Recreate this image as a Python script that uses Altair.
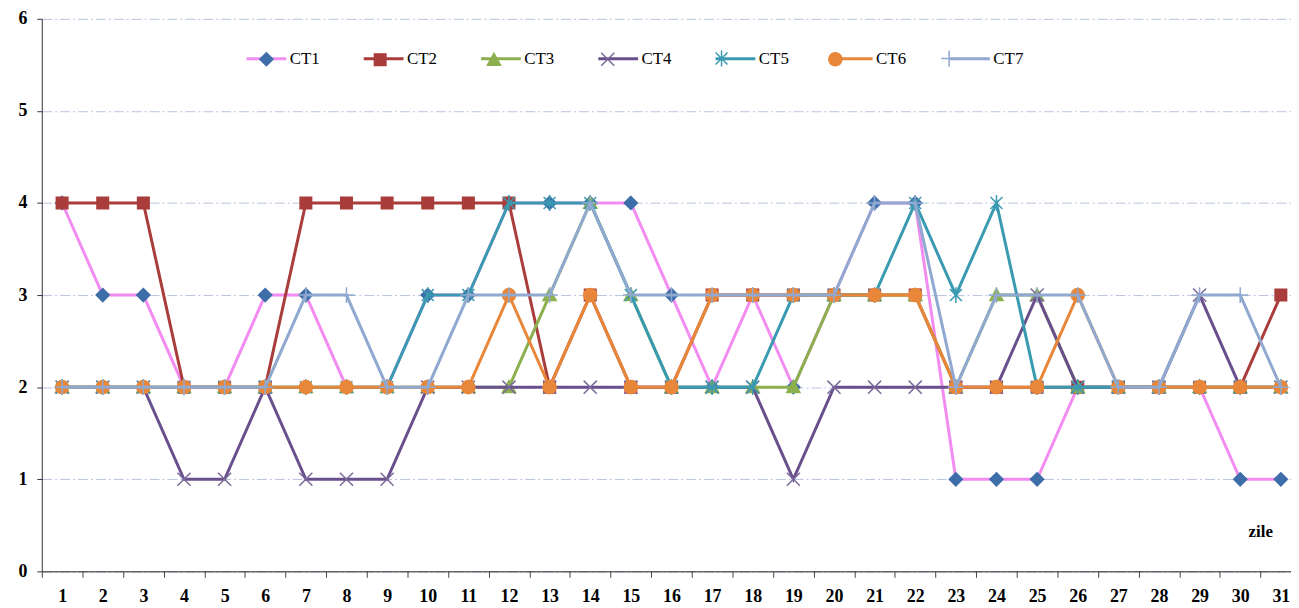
import altair as alt
import pandas as pd

days = list(range(1, 32))
series_names = ["CT1", "CT2", "CT3", "CT4", "CT5", "CT6", "CT7"]
ct1 = [4,3,3,2,2,3,3,2,2,3, 3,4,4,4,4,3,2,3,2,3, 4,4,1,1,1,2,2,2,2,1, 1]
ct2 = [4,4,4,2,2,2,4,4,4,4, 4,4,2,3,2,2,3,3,3,3, 3,3,2,2,2,2,2,2,2,2, 3]
ct3 = [2,2,2,2,2,2,2,2,2,2, 2,2,3,4,3,2,2,2,2,3, 3,3,2,3,3,2,2,2,2,2, 2]
ct4 = [2,2,2,1,1,2,1,1,1,2, 2,2,2,2,2,2,2,2,1,2, 2,2,2,2,3,2,2,2,3,2, 2]
ct5 = [2,2,2,2,2,2,2,2,2,3, 3,4,4,4,3,2,2,2,3,3, 3,4,3,4,2,2,2,2,2,2, 2]
ct6 = [2,2,2,2,2,2,2,2,2,2, 2,3,2,3,2,2,3,3,3,3, 3,3,2,2,2,3,2,2,2,2, 2]
ct7 = [2,2,2,2,2,2,3,3,2,2, 3,3,3,4,3,3,3,3,3,3, 4,4,2,3,3,3,2,2,3,3, 2]
y_ticks = [0, 1, 2, 3, 4, 5, 6]

line_colors = ["#F28CF0", "#A93D3B", "#8DB04F", "#6A4F8D", "#3A9AB1", "#E8873A", "#90A9D0"]
marker_fill = ["#3E6EA9", "#A93D3B", "#8DB04F", "transparent", "transparent", "#E8873A", "transparent"]
marker_stroke = ["#3E6EA9", "#A93D3B", "#8DB04F", "#7A6A9A", "#3A9AB1", "#E8873A", "#90A9D0"]
B = "M-1,0M1,0"
marker_paths = [
    B + "M0,-0.33L0.33,0L0,0.33L-0.33,0Z",
    B + "M-0.29,-0.29L0.29,-0.29L0.29,0.29L-0.29,0.29Z",
    B + "M0,-0.33L0.33,0.27L-0.33,0.27Z",
    B + "M-0.33,-0.33L0.33,0.33M-0.33,0.33L0.33,-0.33",
    B + "M-0.3,-0.3L0.3,0.3M-0.3,0.3L0.3,-0.3M0,-0.4L0,0.4",
    B + "M-0.33,0A0.33,0.33,0,1,0,0.33,0A0.33,0.33,0,1,0,-0.33,0Z",
    B + "M-0.4,0L0.4,0M0,-0.4L0,0.4",
]

rows = []
for name, vals in zip(series_names, [ct1, ct2, ct3, ct4, ct5, ct6, ct7]):
    for d, v in zip(days, vals):
        rows.append({"day": d, "value": v, "series": name})
df = pd.DataFrame(rows)

W, H = 1257, 556
band = W / 30.75
FONT = "Liberation Serif"

x_enc = alt.X("day:Q",
              scale=alt.Scale(domain=[0.5, 31.25], nice=False, zero=False),
              axis=alt.Axis(values=days, tickOffset=-band / 2, labelOffset=band / 2,
                            grid=False, domainColor="#222", tickColor="#444", tickSize=6,
                            labelPadding=10, labelFont=FONT, labelFontSize=18,
                            labelFontWeight="bold", labelColor="black",
                            title="zile", titleX=1226, titleY=-40, titleAlign="center",
                            titleBaseline="middle", titleFont=FONT, titleFontSize=17,
                            titleFontWeight="bold", titleColor="black"))
y_enc = alt.Y("value:Q",
              scale=alt.Scale(domain=[0, 6], nice=False),
              axis=alt.Axis(values=y_ticks, grid=True, gridDash=[10, 3, 2, 3],
                            gridColor="#B7C4DD", gridWidth=1, domainColor="#333",
                            tickColor="#333", tickSize=5, labelPadding=10,
                            labelFont=FONT, labelFontSize=18, labelFontWeight="bold",
                            labelColor="black", title=None))

legend_line = alt.Legend(orient="none", legendX=204.5, legendY=18.5, direction="horizontal",
                         columns=7, title=None, symbolType="stroke", symbolSize=1600,
                         symbolStrokeWidth=3, labelFont=FONT, labelFontSize=17,
                         labelColor="black", labelOffset=2, columnPadding=37, padding=0,
                         values=series_names)
# marker legend: no label text, laid over the line legend so each marker sits on its line
legend_mark = alt.Legend(orient="none", legendX=205, legendY=19, direction="horizontal",
                         columns=7, title=None, symbolSize=1600, symbolStrokeWidth=1.5,
                         labelFont=FONT, labelFontSize=17, labelExpr="''",
                         labelOffset=3, columnPadding=67.5, padding=0)

# the line scale carries one unused extra domain value so that its legend stays separate
color_enc = alt.Color("series:N",
                      scale=alt.Scale(domain=series_names + ["~"], range=line_colors + ["#ffffff"]),
                      legend=legend_line)
fill_enc = alt.Fill("series:N", scale=alt.Scale(domain=series_names, range=marker_fill),
                    legend=legend_mark)
stroke_enc = alt.Stroke("series:N", scale=alt.Scale(domain=series_names, range=marker_stroke),
                        legend=legend_mark)
shape_enc = alt.Shape("series:N", scale=alt.Scale(domain=series_names, range=marker_paths),
                      legend=legend_mark)

layers = []
for s in series_names:
    base = alt.Chart(df).transform_filter(alt.datum.series == s)
    layers.append(base.mark_line(strokeWidth=3).encode(x=x_enc, y=y_enc, color=color_enc,
                                                       order="day:Q"))
    layers.append(base.mark_point(size=1600, strokeWidth=1.5, opacity=1).encode(
        x=x_enc, y=y_enc, fill=fill_enc, stroke=stroke_enc, shape=shape_enc))

chart = alt.layer(*layers).properties(
    width=W, height=H,
    padding={"left": 34, "top": 9, "right": 0, "bottom": 35},
    autosize=alt.AutoSizeParams(type="none"),
    background="white",
).configure_view(stroke=None)

chart.save("out.html", embed_options={"renderer": "svg", "actions": False})
